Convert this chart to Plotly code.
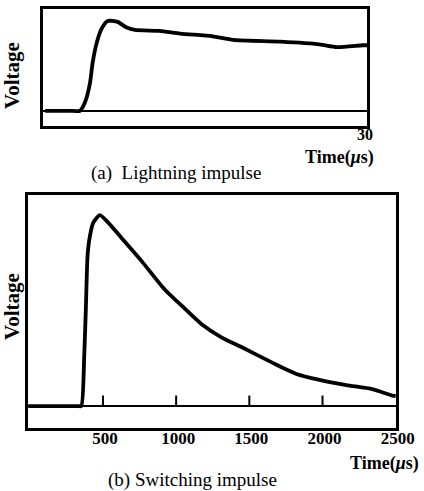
import plotly.graph_objects as go

# Lightning impulse (a): time in microseconds, voltage normalised to peak
li_time = [0.2, 2.8, 3.4, 3.9, 4.35, 4.6, 5.0, 5.5, 6.0, 6.9, 7.7, 8.5, 10.8, 12.7,
           15.7, 17.6, 22.0, 25.6, 27.2, 29.6, 30.0]
li_volt = [0.0, 0.0, 0.0, 0.1, 0.31, 0.54, 0.77, 0.93, 1.0, 0.99, 0.93, 0.9, 0.89, 0.86,
           0.83, 0.79, 0.77, 0.74, 0.71, 0.73, 0.73]

# Switching impulse (b)
si_time = [-10, 330, 352, 372, 384, 395, 411, 434, 479, 536, 627, 763, 922, 1059,
           1172, 1309, 1456, 1660, 1822, 1979, 2163, 2340, 2477, 2500]
si_volt = [0.0, 0.0, 0.0, 0.26, 0.53, 0.79, 0.89, 0.96, 1.0, 0.96, 0.88, 0.76, 0.61, 0.51,
           0.43, 0.36, 0.305, 0.226, 0.168, 0.137, 0.11, 0.089, 0.055, 0.053]

li_ticks = [30]
li_ticklabels = ["30"]
si_ticks = [500, 1000, 1500, 2000, 2500]
si_ticklabels = ["500", "1000", "1500", "2000", "2500"]

W, H = 424, 491
SERIF = "Liberation Serif, Times New Roman, serif"

fig = go.Figure()

fig.add_trace(go.Scatter(x=li_time, y=li_volt, mode="lines",
                         line=dict(color="black", width=3.8, shape="spline", smoothing=0.6),
                         xaxis="x", yaxis="y", showlegend=False, hoverinfo="skip"))
fig.add_trace(go.Scatter(x=si_time, y=si_volt, mode="lines",
                         line=dict(color="black", width=3.8, shape="spline", smoothing=0.6),
                         xaxis="x2", yaxis="y2", showlegend=False, hoverinfo="skip"))

# small tick marks standing on the baseline of panel (b)
tick_h = 0.055
tx, ty = [], []
for t in si_ticks[:-1]:
    tx += [t, t, None]
    ty += [0, tick_h, None]
fig.add_trace(go.Scatter(x=tx, y=ty, mode="lines", line=dict(color="black", width=2),
                         xaxis="x2", yaxis="y2", showlegend=False, hoverinfo="skip"))

frame = dict(showline=True, mirror=True, linecolor="black", linewidth=3,
             showgrid=False, ticks="", fixedrange=True, automargin=False)

fig.update_layout(
    width=W, height=H, autosize=False, showlegend=False,
    margin=dict(l=0, r=0, t=0, b=0, autoexpand=False),
    paper_bgcolor="white", plot_bgcolor="white",
    font=dict(family=SERIF, color="black", size=17),
    xaxis=dict(domain=[43 / W, 367 / W], range=[0, 30], anchor="y",
               tickvals=li_ticks, ticktext=["<b>%s</b>" % s for s in li_ticklabels],
               tickfont=dict(size=16),
               zeroline=False, ticklabelstandoff=-8, ticklabelshift=-2, **frame),
    yaxis=dict(domain=[1 - 126 / H, 1 - 9 / H], range=[-0.167, 1.133], anchor="x",
               showticklabels=False, zeroline=True, zerolinecolor="black",
               zerolinewidth=2, **frame),
    xaxis2=dict(domain=[28 / W, 396 / W], range=[-12, 2502], anchor="y2",
                tickvals=si_ticks, ticktext=["<b>%s</b>" % s for s in si_ticklabels],
                zeroline=False, ticklabelstandoff=-7, ticklabelshift=2, **frame),
    yaxis2=dict(domain=[1 - 428 / H, 1 - 195 / H], range=[-0.115, 1.105], anchor="x2",
                showticklabels=False, zeroline=True, zerolinecolor="black",
                zerolinewidth=2, **frame),
)

def ann(text, px, py, size=18, angle=0):
    fig.add_annotation(text=text, x=px / W, y=1 - py / H, xref="paper", yref="paper",
                       showarrow=False, textangle=angle, xanchor="center", yanchor="middle",
                       font=dict(family=SERIF, size=size, color="black"))

ann("<b>Voltage</b>", 12, 76, size=21, angle=-90)
ann("<b>Voltage</b>", 12, 307, size=21, angle=-90)
ann("<b>Time(<i>μ</i>s)</b>", 339, 157, size=18)
ann("(a)\u00a0\u00a0Lightning impulse", 176, 173, size=19)
ann("<b>Time(<i>μ</i>s)</b>", 384, 463, size=18)
ann("(b) Switching impulse", 192, 480, size=19)

fig.write_html("out.html", config={"displayModeBar": False})
